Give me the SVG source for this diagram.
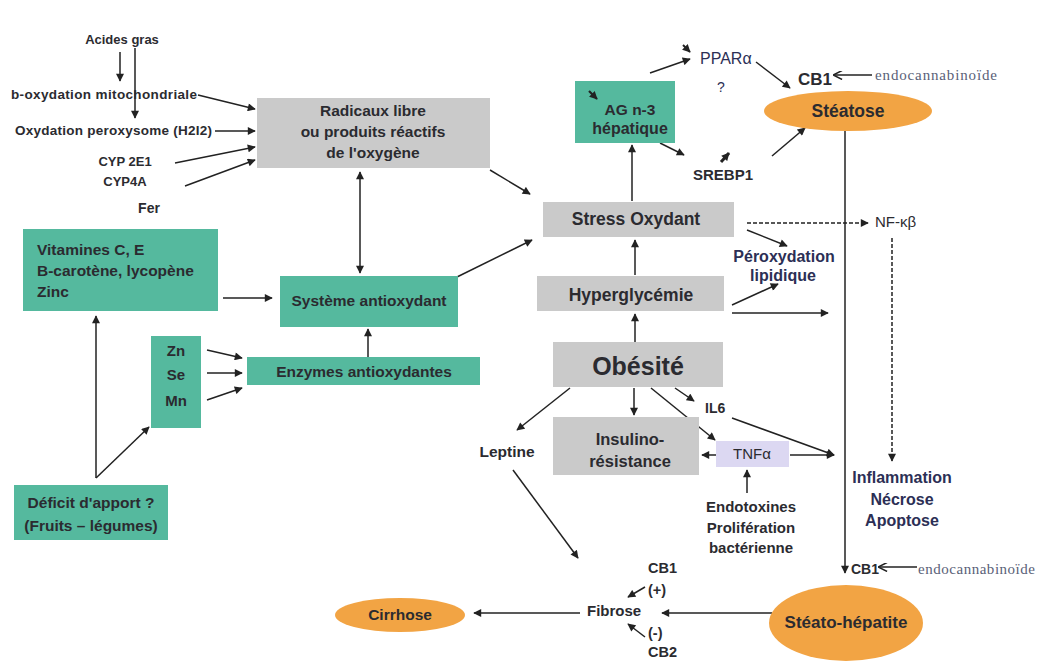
<svg xmlns="http://www.w3.org/2000/svg" width="1040" height="670" viewBox="0 0 1040 670" font-size="13" font-weight="bold">
<defs>
<marker id="ah" viewBox="0 0 10 10" refX="9" refY="5" markerWidth="9" markerHeight="8" markerUnits="userSpaceOnUse" orient="auto-start-reverse"><path d="M0,0 L10,5 L0,10 z" fill="#222"/></marker>
<marker id="ch" viewBox="0 0 10 10" refX="9" refY="5" markerWidth="10" markerHeight="9" markerUnits="userSpaceOnUse" orient="auto"><path d="M0,0 L10,5 L0,10" fill="none" stroke="#222" stroke-width="1.6"/></marker>
<style>
text{font-family:"Liberation Sans",Arial,sans-serif;fill:#2b2b30}
.c{text-anchor:middle}
.g{fill:#cacaca}
.t{fill:#55b99e}
.o{fill:#f2a444}
.l{fill:#dcd8f2}
.ln{stroke:#222;stroke-width:1.5;fill:none;marker-end:url(#ah)}
.op{stroke:#222;stroke-width:1.5;fill:none;marker-end:url(#ch)}
.d{stroke-dasharray:4,2}
.s{font-family:"Liberation Serif","Times New Roman",serif;font-weight:normal;fill:#5a5f78;font-size:15px}
.n{fill:#2c2f55}
</style>
</defs>
<rect width="1040" height="670" fill="#fff"/>

<g id="connectors">
<path class="ln" d="M120,52 V81"/>
<path class="ln" d="M135,48 V118"/>
<path class="ln" d="M198,95 L255,109"/>
<path class="ln" d="M215,131 L255,131"/>
<path class="ln" d="M175,163 L255,147"/>
<path class="ln" d="M185,186 L255,160"/>
<path class="ln" d="M360,172 V273" marker-start="url(#ah)"/>
<path class="ln" d="M490,170 L530,194"/>
<path class="ln" d="M223,298 L272,298"/>
<path class="ln" d="M207,350 L242,358"/>
<path class="ln" d="M207,373 L242,373"/>
<path class="ln" d="M207,400 L242,388"/>
<path class="ln" d="M368,357 V329"/>
<path class="ln" d="M96,478 V316"/>
<path class="ln" d="M96,478 L149,427"/>
<path class="ln" d="M457,277 L532,240"/>
<path class="ln" d="M635,275 V240"/>
<path class="ln" d="M635,342 V314"/>
<path class="ln" d="M632,201 V145"/>
<path class="ln" d="M650,73 L690,59"/>
<path class="ln" d="M756,62 L790,88"/>
<path class="op" d="M872,75 H834"/>
<path class="ln" d="M660,143 L684,155"/>
<path class="ln" d="M772,156 L805,128"/>
<path class="ln" d="M845,131 V573"/>
<path class="ln d" d="M747,223 H868"/>
<path class="ln d" d="M892,238 V461"/>
<path class="ln" d="M747,230 L787,246"/>
<path class="ln" d="M732,305 L778,284"/>
<path class="ln" d="M732,313 H828"/>
<path class="ln" d="M634,388 V415"/>
<path class="ln" d="M570,388 L517,430"/>
<path class="ln" d="M513,470 L578,558"/>
<path class="ln" d="M651,388 L715,440"/>
<path class="ln" d="M675,388 L694,401"/>
<path class="ln" d="M732,418 L834,455"/>
<path class="ln" d="M716,455 H702"/>
<path class="ln" d="M790,455 H834"/>
<path class="ln" d="M747,493 V470"/>
<path class="op" d="M917,567 H879"/>
<path class="ln" d="M772,613 H662"/>
<path class="ln" d="M645,587 L628,597"/>
<path class="ln" d="M645,637 L628,624"/>
<path class="ln" d="M580,613 H474"/>
</g>

<g id="acides"><text class="c" x="122" y="44" font-size="13">Acides gras</text></g>
<g id="boxyd"><text x="11" y="99" font-size="13.5" textLength="186">b-oxydation mitochondriale</text></g>
<g id="perox"><text x="15" y="135" font-size="13.5" textLength="197">Oxydation peroxysome (H2I2)</text></g>
<g id="cyp"><text class="c" x="125" y="166" font-size="13">CYP 2E1</text><text class="c" x="125" y="186" font-size="13">CYP4A</text></g>
<g id="fer"><text class="c" x="149" y="213" font-size="14">Fer</text></g>

<g id="radicaux"><rect class="g" x="257" y="98" width="233" height="70"/>
<text class="c" x="373" y="116" font-size="15.5">Radicaux libre</text>
<text class="c" x="373" y="137" font-size="15.5">ou produits réactifs</text>
<text class="c" x="373" y="158" font-size="15.5">de l'oxygène</text></g>

<g id="vitamines"><rect class="t" x="23" y="229" width="195" height="82"/>
<text x="37" y="255" font-size="15.5">Vitamines C, E</text>
<text x="37" y="276" font-size="15.5">B-carotène, lycopène</text>
<text x="37" y="297" font-size="15.5">Zinc</text></g>

<g id="systeme"><rect class="t" x="280" y="276" width="178" height="51"/>
<text class="c" x="369" y="306" font-size="15.5">Système antioxydant</text></g>

<g id="oligo"><rect class="t" x="151" y="336" width="50" height="92"/>
<text class="c" x="176" y="356" font-size="15">Zn</text>
<text class="c" x="176" y="380" font-size="15">Se</text>
<text class="c" x="176" y="406" font-size="15">Mn</text></g>

<g id="enzymes"><rect class="t" x="247" y="357" width="233" height="28"/>
<text class="c" x="364" y="377" font-size="15.5">Enzymes antioxydantes</text></g>

<g id="deficit"><rect class="t" x="14" y="485" width="154" height="55"/>
<text class="c" x="91" y="508" font-size="15.5">Déficit d'apport ?</text>
<text class="c" x="91" y="531" font-size="15.5">(Fruits – légumes)</text></g>

<g id="stress"><rect class="g" x="543" y="202" width="191" height="35"/>
<text class="c" x="636" y="225" font-size="17.5">Stress Oxydant</text></g>

<g id="hyper"><rect class="g" x="537" y="276" width="187" height="35"/>
<text class="c" x="631" y="301" font-size="17.5">Hyperglycémie</text></g>

<g id="agn3"><rect class="t" x="575" y="81" width="100" height="62"/>
<path d="M589,91 L597,99" stroke="#222" stroke-width="2.2" marker-end="url(#ah)"/>
<text class="c" x="630" y="115" font-size="15.5">AG n-3</text>
<text class="c" x="630" y="134" font-size="16">hépatique</text></g>

<g id="ppar"><path d="M683,45 L690,52" stroke="#222" stroke-width="2" marker-end="url(#ah)"/>
<text class="n" x="700" y="64" font-size="16" font-weight="normal">PPARα</text></g>
<g id="q"><text class="c n" x="721" y="92" font-size="14" font-weight="normal">?</text></g>

<g id="cb1top"><text x="798" y="85" font-size="17">CB1</text></g>
<g id="endo1"><text class="s" x="875" y="80" textLength="122">endocannabinoïde</text></g>

<g id="steatose"><ellipse class="o" cx="848" cy="111" rx="84" ry="20"/>
<text class="c" x="848" y="117" font-size="17.5">Stéatose</text></g>

<g id="srebp"><path d="M721,162 L729,153" stroke="#222" stroke-width="3" marker-end="url(#ah)"/>
<text x="693" y="180" font-size="15">SREBP1</text></g>

<g id="nfkb"><text x="875" y="227" font-size="15" font-weight="normal" fill="#555">NF-κβ</text></g>

<g id="perox2"><text class="c n" x="784" y="262" font-size="16">Péroxydation</text>
<text class="c n" x="783" y="281" font-size="16">lipidique</text></g>

<g id="obesite"><rect class="g" x="553" y="342" width="170" height="45"/>
<text class="c" x="638" y="375" font-size="25">Obésité</text></g>

<g id="insulino"><rect class="g" x="553" y="417" width="146" height="58"/>
<text class="c" x="630" y="445" font-size="16.5">Insulino-</text>
<text class="c" x="630" y="467" font-size="16.5">résistance</text></g>

<g id="leptine"><text class="c" x="507" y="457" font-size="15.5">Leptine</text></g>
<g id="il6"><text x="705" y="413" font-size="14">IL6</text></g>

<g id="tnf"><rect class="l" x="716" y="441" width="73" height="26"/>
<text class="c" x="752" y="459" font-size="15" font-weight="normal">TNFα</text></g>

<g id="endotox"><text class="c" x="751" y="512" font-size="15">Endotoxines</text>
<text class="c" x="751" y="533" font-size="15">Prolifération</text>
<text class="c" x="751" y="553" font-size="15">bactérienne</text></g>

<g id="inflam"><text class="c n" x="902" y="483" font-size="16">Inflammation</text>
<text class="c n" x="902" y="505" font-size="16">Nécrose</text>
<text class="c n" x="902" y="526" font-size="16">Apoptose</text></g>

<g id="cb1bot"><text x="851" y="574" font-size="14">CB1</text></g>
<g id="endo2"><text class="s" x="918" y="574" textLength="117">endocannabinoïde</text></g>

<g id="steatohep"><ellipse class="o" cx="846" cy="623" rx="77" ry="38"/>
<text class="c" x="846" y="628" font-size="17">Stéato-hépatite</text></g>

<g id="fibrose"><text x="587" y="616" font-size="15">Fibrose</text>
<text x="648" y="573" font-size="14.5">CB1</text>
<text x="648" y="595" font-size="14.5">(+)</text>
<text x="648" y="638" font-size="14.5">(-)</text>
<text x="648" y="657" font-size="14.5">CB2</text></g>

<g id="cirrhose"><ellipse class="o" cx="400" cy="615" rx="65" ry="17"/>
<text class="c" x="400" y="620" font-size="15.5">Cirrhose</text></g>
</svg>
